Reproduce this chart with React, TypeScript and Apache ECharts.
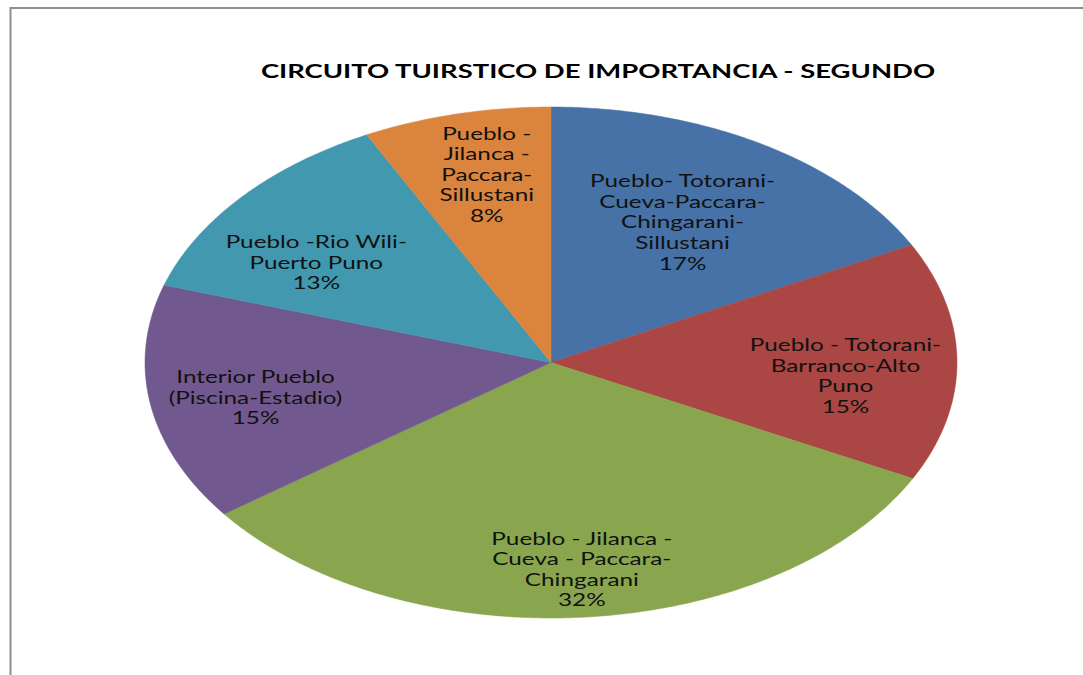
import React, { useEffect, useRef } from "react";
import * as echarts from "echarts";

const titleText = "CIRCUITO TUIRSTICO DE IMPORTANCIA - SEGUNDO";
const categories = [
  "Pueblo- Totorani-\nCueva-Paccara-\nChingarani-\nSillustani",
  "Pueblo - Totorani-\nBarranco-Alto\nPuno",
  "Pueblo - Jilanca -\nCueva - Paccara-\nChingarani",
  "Interior Pueblo\n(Piscina-Estadio)",
  "Pueblo -Rio Wili-\nPuerto Puno",
  "Pueblo -\nJilanca -\nPaccara-\nSillustani",
];
const values = [17.4, 15.1, 32.4, 15.0, 12.6, 7.5];
const percentLabels = ["17%", "15%", "32%", "15%", "13%", "8%"];
const colors = ["#4672A7", "#AA4643", "#89A54E", "#71588F", "#4198AF", "#DB843D"];

// layout (not data)
const CX = 551;
const CY = 362.5;
const RX = 406;
const RY = 255.5;
const labelRadius = [0.64, 0.727, 0.81, 0.74, 0.7, 0.755];
const labelAngleShift = [-0.9, 4.1, -0.7, -1.1, -6, 1.4];
const LABEL_SCALE_X = 1.43;
const TITLE_SCALE_X = 1.445;

export default function App() {
  const ref = useRef<HTMLDivElement>(null);
  useEffect(() => {
    if (!ref.current) return;
    const chart = echarts.init(ref.current, null, { renderer: "svg" });
    const total = values.reduce((a, b) => a + b, 0);
    const starts: number[] = [];
    let acc = 0;
    values.forEach((v) => {
      starts.push(acc);
      acc += v;
    });
    const toPt = (deg: number, f: number) => {
      const t = (deg * Math.PI) / 180;
      return [CX + RX * f * Math.sin(t), CY - RY * f * Math.cos(t)];
    };
    chart.setOption({
      animation: false,
      graphic: [
        {
          type: "rect",
          shape: { x: 10.5, y: 8, width: 1200, height: 1000 },
          style: { fill: "none", stroke: "#8f8f8f", lineWidth: 2 },
          silent: true,
        },
        {
          type: "text",
          x: 598,
          y: 71,
          scaleX: TITLE_SCALE_X,
          style: {
            text: titleText,
            fontFamily: "Lato",
            fontWeight: "bold",
            fontSize: 19,
            fill: "#000",
            align: "center",
            verticalAlign: "middle",
          },
        },
      ],
      series: [
        {
          type: "custom",
          coordinateSystem: "none",
          data: values.map((v, i) => ({ value: v, name: categories[i] })),
          renderItem: (params: any, api: any) => {
            const i = params.dataIndex;
            const v = api.value(0);
            const a0 = (starts[i] / total) * 360;
            const a1 = ((starts[i] + v) / total) * 360;
            const pts: number[][] = [[CX, CY]];
            const steps = Math.max(4, Math.ceil((a1 - a0) / 0.5));
            for (let k = 0; k <= steps; k++) {
              pts.push(toPt(a0 + ((a1 - a0) * k) / steps, 1));
            }
            const mid = (a0 + a1) / 2 + labelAngleShift[i];
            const lp = toPt(mid, labelRadius[i]);
            return {
              type: "group",
              children: [
                {
                  type: "polygon",
                  shape: { points: pts },
                  style: { fill: colors[i], stroke: colors[i], lineWidth: 0.5 },
                },
                {
                  type: "text",
                  x: lp[0],
                  y: lp[1],
                  scaleX: LABEL_SCALE_X,
                  style: {
                    text: categories[i] + "\n" + percentLabels[i],
                    fontFamily: "Lato",
                    fontSize: 17,
                    lineHeight: 20.6,
                    fill: "#111",
                    align: "center",
                    verticalAlign: "middle",
                  },
                },
              ],
            };
          },
        },
      ],
    });
    return () => chart.dispose();
  }, []);
  return (
    <div
      ref={ref}
      style={{ position: "absolute", left: 0, top: 0, width: 1083, height: 675, background: "#fff" }}
    />
  );
}
